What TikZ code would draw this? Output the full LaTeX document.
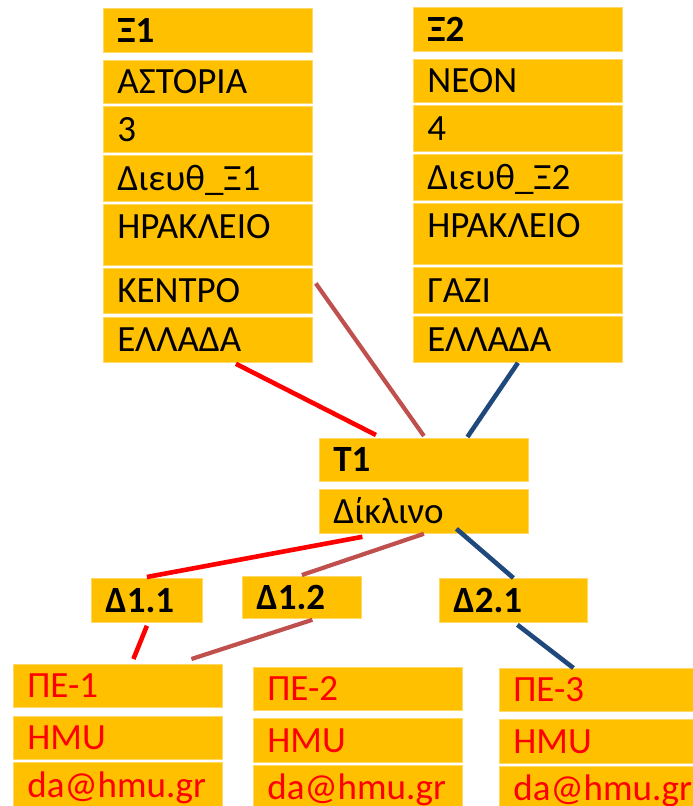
\documentclass[tikz,border=0pt]{standalone}
\usepackage{fontspec}
\setmainfont{Carlito}

\definecolor{gold}{HTML}{FFC000}
\definecolor{goldedge}{HTML}{FFD966}
\definecolor{linkred}{HTML}{FF0000}
\definecolor{linkbrown}{HTML}{C0504D}
\definecolor{linkblue}{HTML}{1F497D}

\tikzset{
  cell/.style={rectangle, fill=gold, draw=goldedge, line width=0.4pt, anchor=north west,
    inner xsep=7pt, inner ysep=0pt, text height=12pt, text depth=0pt,
    align=left, text width=90.5pt, font=\fontsize{18.5}{21}\selectfont},
  head/.style={cell, font=\fontsize{18.5}{21}\selectfont\bfseries},
  dbox/.style={cell, font=\fontsize{18.5}{21}\selectfont\bfseries},
  pe/.style={cell, text=linkred},
  redlink/.style={draw=linkred, line width=2.3pt},
  brownlink/.style={draw=linkbrown, line width=2.1pt},
  bluelink/.style={draw=linkblue, line width=2.3pt}
}

\begin{document}
\begin{tikzpicture}[x=0.5pt,y=-0.5pt]
\useasboundingbox (0,0) rectangle (692,806);

% first column
\node[head, minimum height=22pt] (x1h) at (103,8) {Ξ1};
\node[cell, minimum height=21.5pt] (x1a) at (103,60) {ΑΣΤΟΡΙΑ};
\node[cell, minimum height=23pt] (x1b) at (103,106) {3};
\node[cell, minimum height=23pt] (x1c) at (103,155) {Διευθ\_Ξ1};
\node[cell, minimum height=30.5pt, text depth=8pt] (x1d) at (103,204) {ΗΡΑΚΛΕΙΟ};
\node[cell, minimum height=22.5pt] (x1e) at (103,268) {ΚΕΝΤΡΟ};
\node[cell, minimum height=22.5pt] (x1f) at (103,317) {ΕΛΛΑΔΑ};

% second column
\node[head, minimum height=22pt] (x2h) at (413,7) {Ξ2};
\node[cell, minimum height=21.5pt] (x2a) at (413,59) {ΝΕΟΝ};
\node[cell, minimum height=23pt] (x2b) at (413,105) {4};
\node[cell, minimum height=23pt] (x2c) at (413,154) {Διευθ\_Ξ2};
\node[cell, minimum height=30.5pt, text depth=8pt] (x2d) at (413,203) {ΗΡΑΚΛΕΙΟ};
\node[cell, minimum height=23pt] (x2e) at (413,267) {ΓΑΖΙ};
\node[cell, minimum height=23pt] (x2f) at (413,316) {ΕΛΛΑΔΑ};

% room type
\node[head, minimum height=21.5pt] (t1) at (319,438) {T1};
\node[cell, minimum height=22pt] (dik) at (319,489) {Δίκλινο};

% rooms
\node[dbox, minimum height=22pt, text width=41.5pt] (d11) at (91,578) {Δ1.1};
\node[dbox, minimum height=21pt, text width=45.5pt] (d12) at (242,576) {Δ1.2};
\node[dbox, minimum height=22pt, text width=60pt] (d21) at (439,578) {Δ2.1};

% customers
\node[pe, minimum height=21.5pt] (pe1a) at (13,664) {ΠΕ-1};
\node[pe, minimum height=21.5pt] (pe1b) at (13,716) {HMU};
\node[pe, minimum height=23pt] (pe1c) at (13,762) {da@hmu.gr};
\node[pe, minimum height=21.5pt] (pe2a) at (253,667) {ΠΕ-2};
\node[pe, minimum height=22pt] (pe2b) at (253,718) {HMU};
\node[pe, minimum height=22pt] (pe2c) at (253,765) {da@hmu.gr};
\node[pe, minimum height=21.5pt] (pe3a) at (499,668) {ΠΕ-3};
\node[pe, minimum height=22pt] (pe3b) at (499,719) {HMU};
\node[pe, minimum height=22pt] (pe3c) at (499,766) {da@hmu.gr};

% links
\draw[redlink] ([xshift=14pt,yshift=-0.5pt]x1f.south) -- ([xshift=-24pt,yshift=1.5pt]t1.north);
\draw[brownlink] ([xshift=1.5pt,yshift=3.75pt]x1e.east) -- ([yshift=1pt]t1.north);
\draw[bluelink] (x2f.south) -- ([xshift=21.75pt,yshift=0.5pt]t1.north);
\draw[redlink] ([xshift=-30.75pt,yshift=-1.5pt]dik.south) -- ([yshift=0.5pt]d11.north);
\draw[brownlink] (dik.south) -- ([yshift=0.5pt]d12.north);
\draw[bluelink] ([xshift=16.25pt,yshift=2.5pt]dik.south) -- (d21.north);
\draw[redlink] ([yshift=-1.5pt]d11.south) -- ([xshift=7.75pt,yshift=2.5pt]pe1a.north);
\draw[brownlink] ([xshift=5.25pt,yshift=-0.5pt]d12.south) -- ([xshift=36.75pt,yshift=2.5pt]pe1a.north);
\draw[bluelink] ([xshift=2pt,yshift=-1pt]d21.south) -- ([xshift=-15.25pt]pe3a.north);
\end{tikzpicture}
\end{document}
